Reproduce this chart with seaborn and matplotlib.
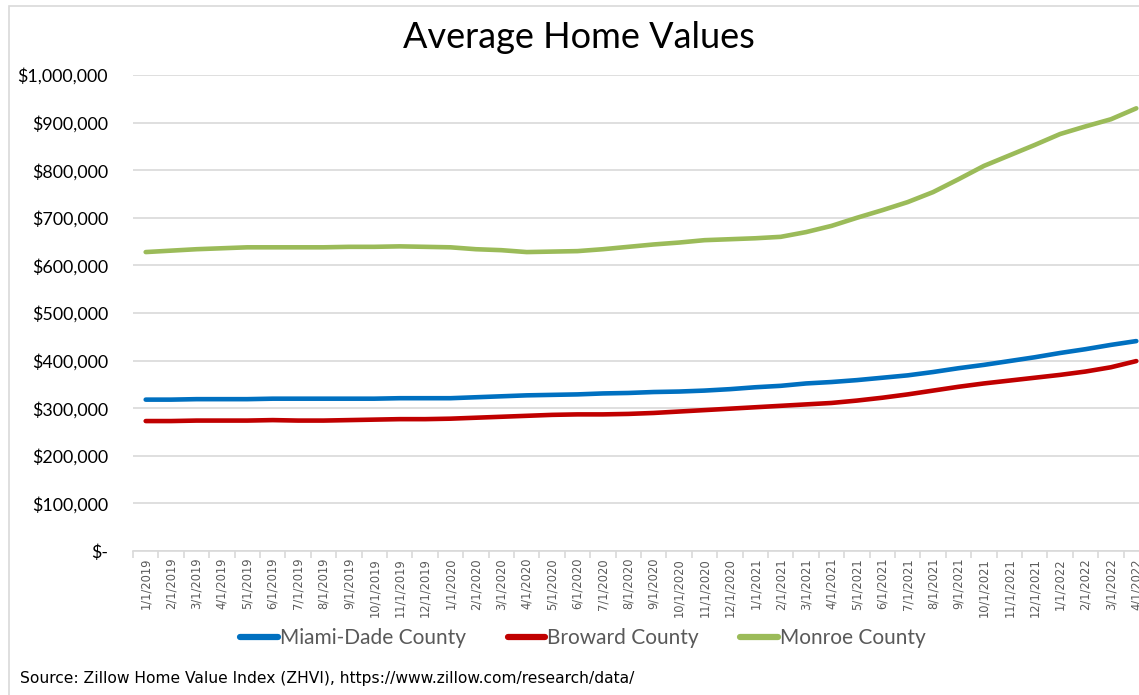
import matplotlib
matplotlib.use("Agg")
import matplotlib.pyplot as plt
from matplotlib.patches import Rectangle
from matplotlib.ticker import FuncFormatter, FixedLocator
import seaborn as sns
import pandas as pd

# Monthly dates (first of month)
months = [f"{m}/1/{y}" for y in (2019, 2020, 2021) for m in range(1, 13)] + \
         [f"{m}/1/2022" for m in range(1, 5)]

miami_dade = [318, 318, 319, 319, 319, 320, 320, 320, 320, 320, 321, 321,
              321, 323, 325, 327, 328, 329, 331, 332, 334, 335, 337, 340,
              344, 347, 352, 355, 359, 364, 369, 376, 384, 391, 399, 407,
              416, 424, 433, 441]
broward = [273, 273, 274, 274, 274, 275, 274, 274, 275, 276, 277, 277,
           278, 280, 282, 284, 286, 287, 287, 288, 290, 293, 296, 299,
           302, 305, 308, 311, 316, 322, 329, 337, 345, 352, 358, 364,
           370, 377, 386, 399]
monroe = [628, 631, 634, 636, 638, 638, 638, 638, 639, 639, 640, 639,
          638, 634, 632, 628, 629, 630, 634, 639, 644, 648, 653, 655,
          657, 660, 670, 683, 700, 716, 733, 754, 781, 809, 831, 853,
          876, 892, 907, 930]

series = {"Miami-Dade County": miami_dade,
          "Broward County": broward,
          "Monroe County": monroe}
colors = {"Miami-Dade County": "#0070C0",
          "Broward County": "#C00000",
          "Monroe County": "#9BBB59"}

rows = []
for name, vals in series.items():
    for i, v in enumerate(vals):
        rows.append({"idx": i, "month": months[i], "county": name, "value": v * 1000})
df = pd.DataFrame(rows)

sns.set_theme(style="white")
plt.rcParams["font.family"] = ["Lato", "DejaVu Sans"]

W, H = 1139, 695
fig = plt.figure(figsize=(W / 100, H / 100), dpi=100)

# Chart frame
fig.patches.append(Rectangle((9 / W, -0.1), 1.2, 1 - 6 / H + 0.1,
                             transform=fig.transFigure, fill=False,
                             edgecolor="#d9d9d9", linewidth=1.2))

left, right, top, bottom = 133, 133 + 40 * 25.4, 75, 551
ax = fig.add_axes([left / W, 1 - bottom / H, (right - left) / W, (bottom - top) / H])

sns.lineplot(data=df, x="idx", y="value", hue="county", palette=colors,
             linewidth=3.3, ax=ax, legend=False, solid_capstyle="round")

ax.set_xlim(-0.5, len(months) - 0.5)
ax.set_ylim(0, 1_000_000)
ax.set_yticks(range(0, 1_000_001, 100_000))
ax.yaxis.set_major_formatter(FuncFormatter(lambda v, p: "$-" if v == 0 else f"${v:,.0f}"))
ax.grid(axis="y", color="#d9d9d9", linewidth=1.2)
ax.set_axisbelow(True)

for s in ("top", "right", "left"):
    ax.spines[s].set_visible(False)
ax.spines["bottom"].set_color("#d9d9d9")
ax.spines["bottom"].set_linewidth(1.2)

ax.set_xticks(range(len(months)))
ax.set_xticklabels(months, rotation=90, fontsize=8.3, color="#595959",
                   family="DejaVu Sans")
ax.xaxis.set_minor_locator(FixedLocator([i - 0.5 for i in range(len(months) + 1)]))
ax.tick_params(axis="x", which="major", length=0, pad=5)
ax.tick_params(axis="x", which="minor", length=5, color="#d9d9d9", width=1.2, bottom=True)
ax.tick_params(axis="y", length=0, pad=18, labelsize=12.9, labelcolor="#000000")
ax.set_xlabel("")
ax.set_ylabel("")

fig.text(579 / W, 1 - 38 / H, "Average Home Values", ha="center", va="center",
         fontsize=26, color="#000000")

handles = [plt.Line2D([], [], color=colors[n], linewidth=4.5) for n in series]
fig.legend(handles, list(series), loc="center", ncol=3, frameon=False,
           bbox_to_anchor=(583 / W, 1 - 638 / H), fontsize=15,
           handlelength=1.8, handletextpad=0.1, columnspacing=2.0,
           labelcolor="#595959")

fig.text(20 / W, 1 - 679 / H,
         "Source: Zillow Home Value Index (ZHVI), https://www.zillow.com/research/data/",
         ha="left", va="center", fontsize=11.2, color="#000000",
         family="DejaVu Sans")

fig.savefig("out.png", dpi=100)
